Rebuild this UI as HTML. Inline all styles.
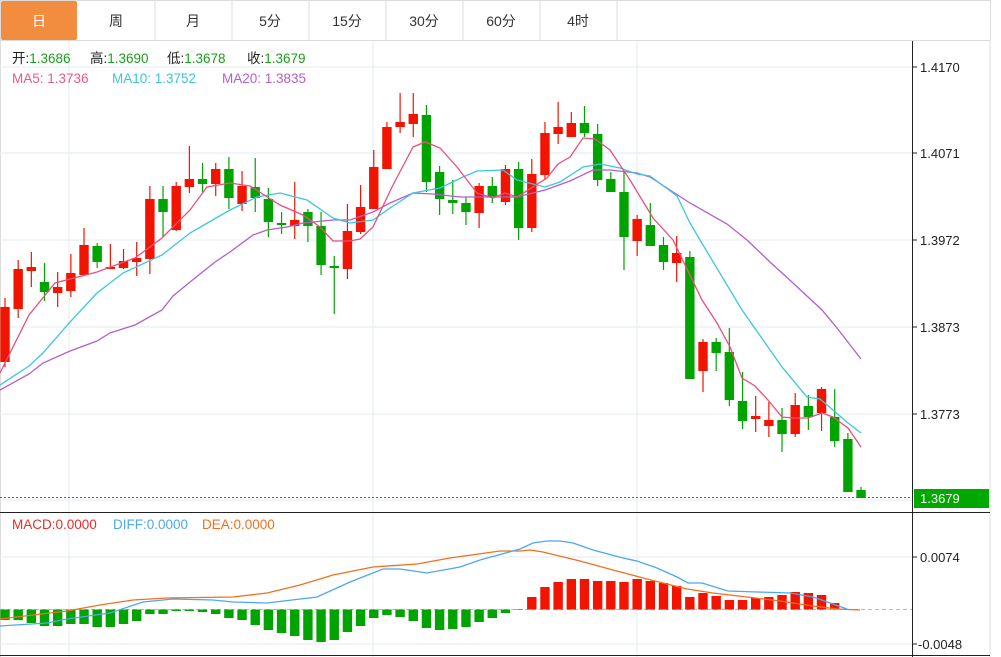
<!DOCTYPE html>
<html><head><meta charset="utf-8"><style>
body{margin:0;background:#fff;width:1001px;height:657px;overflow:hidden;font-family:"Liberation Sans","Noto Sans CJK SC",sans-serif}
svg{display:block}
</style></head><body>
<svg id="s" width="1001" height="657" xmlns="http://www.w3.org/2000/svg" font-family="Liberation Sans, Noto Sans CJK SC, sans-serif">
<rect x="0" y="0" width="1001" height="657" fill="#fff"/>
<!-- tabs -->
<rect x="0.5" y="0.5" width="990" height="40" fill="#fff" stroke="#dcdcdc"/>
<rect x="1" y="1" width="76" height="39" fill="#f28c3e" rx="2"/>
<g stroke="#dcdcdc"><line x1="155" y1="0" x2="155" y2="40"/><line x1="232" y1="0" x2="232" y2="40"/><line x1="309" y1="0" x2="309" y2="40"/><line x1="386" y1="0" x2="386" y2="40"/><line x1="463" y1="0" x2="463" y2="40"/><line x1="540" y1="0" x2="540" y2="40"/><line x1="617" y1="0" x2="617" y2="40"/></g>
<g font-size="14" text-anchor="middle" fill="#333">
<text x="39" y="26" fill="#fff">日</text><text x="116" y="26">周</text><text x="193" y="26">月</text><text x="270" y="26">5分</text><text x="347" y="26">15分</text><text x="424" y="26">30分</text><text x="501" y="26">60分</text><text x="578" y="26">4时</text>
</g>
<!-- frame -->
<line x1="990" y1="41" x2="990" y2="657" stroke="#dcdcdc"/>
<line x1="0.5" y1="41" x2="0.5" y2="657" stroke="#dcdcdc"/>
<g stroke="#e3ebf2" stroke-width="1">
<line x1="0" y1="67" x2="912" y2="67"/><line x1="0" y1="153" x2="912" y2="153"/><line x1="0" y1="240" x2="912" y2="240"/><line x1="0" y1="327" x2="912" y2="327"/><line x1="0" y1="414" x2="912" y2="414"/><line x1="0" y1="500" x2="912" y2="500"/>
<line x1="69" y1="41" x2="69" y2="657"/><line x1="373" y1="41" x2="373" y2="657"/><line x1="637" y1="41" x2="637" y2="657"/>
<line x1="0" y1="557" x2="912" y2="557"/><line x1="0" y1="644" x2="912" y2="644"/>
</g>
<line x1="0" y1="512.5" x2="990" y2="512.5" stroke="#222"/>
<line x1="0" y1="655.5" x2="990" y2="655.5" stroke="#222"/>
<line x1="912.5" y1="41" x2="912.5" y2="657" stroke="#222"/>
<g stroke="#222"><line x1="912" y1="67" x2="917" y2="67"/><line x1="912" y1="153" x2="917" y2="153"/><line x1="912" y1="240" x2="917" y2="240"/><line x1="912" y1="327" x2="917" y2="327"/><line x1="912" y1="414" x2="917" y2="414"/><line x1="912" y1="557" x2="917" y2="557"/><line x1="912" y1="644" x2="917" y2="644"/></g>
<g font-size="13" fill="#222">
<text x="920" y="72">1.4170</text><text x="920" y="158">1.4071</text><text x="920" y="245">1.3972</text><text x="920" y="332">1.3873</text><text x="920" y="419">1.3773</text>
<text x="920" y="562">0.0074</text><text x="918" y="649">-0.0048</text>
</g>
<rect x="914" y="489" width="75" height="19" fill="#00a800"/>
<text x="920" y="503" font-size="13" fill="#fff">1.3679</text>
<line x1="0" y1="497.5" x2="912" y2="497.5" stroke="#00a800" stroke-dasharray="2,2"/>
<line x1="0" y1="609.5" x2="912" y2="609.5" stroke="#8fcbe8" stroke-dasharray="4,3"/>
<!-- legend -->
<g font-size="13.5">
<text x="12" y="63"><tspan fill="#222">开:</tspan><tspan fill="#1a9e1a">1.3686</tspan></text>
<text x="90" y="63"><tspan fill="#222">高:</tspan><tspan fill="#1a9e1a">1.3690</tspan></text>
<text x="167" y="63"><tspan fill="#222">低:</tspan><tspan fill="#1a9e1a">1.3678</tspan></text>
<text x="247" y="63"><tspan fill="#222">收:</tspan><tspan fill="#1a9e1a">1.3679</tspan></text>
<text x="12" y="83" fill="#ea5a86">MA5: 1.3736</text>
<text x="112" y="83" fill="#3cc6dc">MA10: 1.3752</text>
<text x="222" y="83" fill="#b25fcc">MA20: 1.3835</text>
<text x="12" y="529"><tspan fill="#ee2b2b">MACD:0.0000</tspan></text>
<text x="113" y="529" fill="#4ea7ee">DIFF:0.0000</text>
<text x="202" y="529" fill="#f07020">DEA:0.0000</text>
</g>
<g id="c"></g>
<!-- MA lines -->
<polyline fill="none" stroke="#b25fcc" stroke-width="1.3" points="0,390 29,374 43,363 70,351 97,341 110,333 135,325 162,310 173,296 195,278 215,262 230,252 253,235 267,230 287,227 303,223 333,220 350,220 373,212 390,203 413,193 433,194 460,197 517,197 545,190 570,181 593,170 610,170 637,173 650,177 673,192 690,203 727,224 747,240 770,262 793,283 822,310 837,328 861,359"/>
<polyline fill="none" stroke="#3cc6dc" stroke-width="1.3" points="0,385 29,366 43,353 70,322 97,293 123,273 162,255 190,233 230,210 257,197 280,193 307,200 333,218 350,223 373,220 390,208 413,193 440,188 463,177 477,171 503,170 517,180 545,187 560,182 583,167 600,164 620,168 637,174 650,176 677,196 690,223 700,240 742,310 782,367 807,397 820,399 833,410 848,423 861,433"/>
<polyline fill="none" stroke="#ea4f7f" stroke-width="1.3" points="0,373 29,315 55,283 97,272 135,258 162,238 190,210 207,187 230,183 250,186 280,205 303,215 320,227 333,241 350,241 360,239 373,227 392,187 413,147 425,142 440,148 457,167 477,193 493,198 505,193 517,197 547,178 558,164 570,157 583,138 595,139 610,150 630,180 653,218 673,240 702,300 717,323 730,347 742,378 755,386 768,400 782,417 793,418 808,418 822,413 833,417 848,428 861,447"/>
<!-- MACD lines -->
<polyline fill="none" stroke="#f07020" stroke-width="1.3" points="0,619 33,615 67,611 100,605 133,600 167,598 233,597 267,593 300,585 333,575 373,567 417,564 450,558 500,551 520,551 530,550 543,552 580,561 613,570 647,579 687,589 713,593 747,597 780,601 813,606 837,609 860,610"/>
<polyline fill="none" stroke="#4ea7ee" stroke-width="1.3" points="0,626 47,623 67,619 110,613 143,602 173,599 213,600 233,602 267,603 317,597 350,582 383,569 400,569 427,573 460,567 480,560 520,549 533,543 547,541 560,541 573,543 593,550 623,558 637,561 657,568 677,577 688,583 702,583 728,591 757,592 790,593 813,597 830,603 847,609"/>
</svg>
<script>
var C=[[307,362,298,367,'r'],[269,309,260,318,'r'],[267,271,252,287,'r'],[282,292,263,301,'g'],[287,293,272,307,'r'],[273,291,254,297,'r'],[245,275,228,275,'r'],[246,262,243,268,'g'],[267,269,244,269,'r'],[261,268,249,269,'r'],[258,262,242,276,'r'],[199,259,186,274,'r'],[199,212,186,237,'g'],[186,230,182,231,'r'],[179,187,146,193,'r'],[179,184,163,193,'g'],[169,184,163,196,'r'],[169,198,157,209,'g'],[186,204,171,211,'r'],[187,198,158,212,'g'],[199,222,188,237,'g'],[223,225,212,234,'g'],[220,226,182,239,'r'],[212,226,209,242,'g'],[226,265,212,275,'g'],[266,268,256,314,'g'],[231,269,204,279,'r'],[207,232,185,234,'r'],[167,209,150,209,'r'],[127,169,122,169,'r'],[122,127,93,133,'r'],[114,124,93,137,'r'],[115,182,105,192,'g'],[172,199,166,215,'g'],[200,203,180,214,'g'],[203,212,197,225,'g'],[186,213,183,228,'r'],[186,197,177,203,'g'],[169,202,165,205,'r'],[169,228,162,240,'g'],[174,228,159,232,'r'],[133,175,122,180,'r'],[127,134,102,144,'r'],[123,137,112,137,'r'],[123,133,106,137,'g'],[134,180,124,186,'g'],[179,192,172,192,'g'],[192,237,170,270,'g'],[219,241,215,256,'r'],[225,246,203,246,'g'],[245,262,237,270,'g'],[253,263,236,282,'r'],[257,379,251,379,'g'],[342,371,339,392,'r'],[342,353,338,371,'g'],[352,400,328,406,'g'],[401,421,372,429,'g'],[416,419,396,432,'r'],[420,426,402,437,'r'],[420,434,408,452,'g'],[405,434,393,437,'r'],[406,417,395,430,'g'],[389,413,387,431,'r'],[417,441,389,447,'g'],[439,492,433,492,'g'],[490,498,487,498,'g']];
var M=[620,620,623,626,626,624,624,627,627,624,621,614,614,611,611,612,614,618,620,625,630,633,636,640,642,640,632,626,618,615,617,621,628,630,629,627,622,618,613,610,597,587,582,579,579,581,581,582,579,581,583,586,597,593,596,600,600,598,597,595,592,593,595,603,609];
var h='';
for(var i=0;i<C.length;i++){var x=5+i*13.17,c=C[i],col=c[4]=='r'?'#f11400':'#00a300';
h+='<line x1="'+x+'" y1="'+c[2]+'" x2="'+x+'" y2="'+c[3]+'" stroke="'+col+'" stroke-width="1.2"/>';
var hh=Math.max(c[1]-c[0],2);
h+='<rect x="'+(x-4.7)+'" y="'+c[0]+'" width="9.4" height="'+hh+'" fill="'+col+'"/>';}
for(var i=0;i<M.length;i++){var x=5+i*13.17,v=M[i];
if(v>609.5){h+='<rect x="'+(x-4.7)+'" y="609.5" width="9.4" height="'+(v-609.5)+'" fill="#00a300"/>';}
else if(v<609.5){h+='<rect x="'+(x-4.7)+'" y="'+v+'" width="9.4" height="'+(609.5-v)+'" fill="#f11400"/>';}}
document.getElementById('c').innerHTML=h;
</script>
</body></html>
